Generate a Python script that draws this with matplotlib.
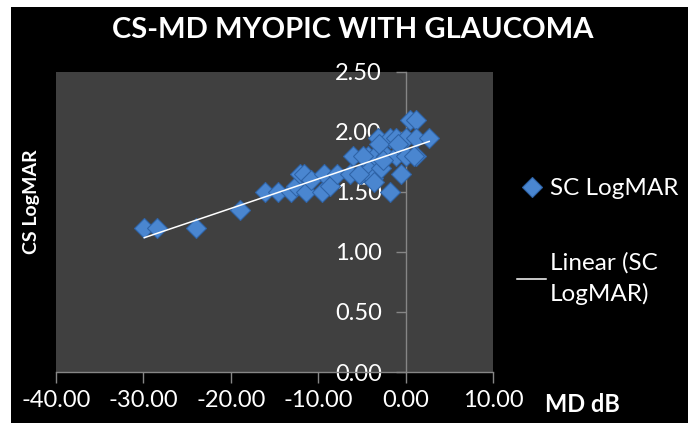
import numpy as np
import matplotlib.pyplot as plt
from matplotlib.patches import Rectangle

# MD (dB) vs contrast sensitivity (LogMAR)
md = [-29.9, -28.5, -24.0, -19.0, -16.1, -14.6, -13.1, -12.5, -12.1, -11.6,
      -11.4, -10.8, -9.6, -9.3, -8.7, -7.9, -6.4, -6.0, -5.1, -4.3,
      -4.1, -3.7, -3.5, -3.2, -2.8, -2.2, -1.8, -1.8, -1.1, -1.1,
      -0.5, 0.1, 0.1, 0.5, 1.2, 1.2, 1.2, 2.7, -3.0, -4.9,
      -2.6, -5.3, -0.9, 1.0, -3.6]
cs = [1.20, 1.20, 1.20, 1.35, 1.50, 1.50, 1.50, 1.55, 1.65, 1.65,
      1.50, 1.60, 1.50, 1.65, 1.55, 1.65, 1.65, 1.80, 1.65, 1.80,
      1.70, 1.62, 1.80, 1.95, 1.70, 1.80, 1.95, 1.50, 1.95, 1.80,
      1.65, 1.95, 1.80, 2.10, 2.10, 1.80, 1.95, 1.95, 1.90, 1.80,
      1.77, 1.65, 1.90, 1.80, 1.58]
x_ticks = [-40, -30, -20, -10, 0, 10]
y_ticks = [0.0, 0.5, 1.0, 1.5, 2.0, 2.5]

plt.rcParams['font.family'] = ['Lato', 'DejaVu Sans']

W, H = 696, 423
fig = plt.figure(figsize=(W / 100, H / 100), dpi=100)
fig.patch.set_facecolor('white')
# black chart area with thin white border
fig.patches.append(Rectangle((11 / W, 0), 677 / W, 416 / H, transform=fig.transFigure,
                             facecolor='black', edgecolor='none', zorder=-5))

ax = fig.add_axes([56 / W, 51 / H, 437 / W, 300 / H])
ax.set_zorder(2)
ax.set_facecolor('#404040')

ax.plot(md, cs, ls='none', marker='D', ms=10.5, mfc='#4a86d0', mec='#2f64a8',
        mew=0.8, label='SC LogMAR', zorder=3)

# linear trendline
k, b = np.polyfit(md, cs, 1)
xs = np.array([min(md), max(md)])
ax.plot(xs, k * xs + b, color='white', lw=1.1, label='Linear (SC\nLogMAR)', zorder=4)

ax.set_xlim(-40, 10)
ax.set_ylim(0, 2.5)
ax.set_xticks(x_ticks)
ax.set_xticklabels(['%.2f' % v for v in x_ticks])
ax.set_yticks(y_ticks)
ax.set_yticklabels(['%.2f' % v for v in y_ticks])

for s in ['top', 'right']:
    ax.spines[s].set_visible(False)
ax.spines['left'].set_position(('data', 0))
for s in ['left', 'bottom']:
    ax.spines[s].set_color('#868686')
    ax.spines[s].set_linewidth(1.0)
ax.tick_params(axis='x', colors='#868686', length=8, width=1, pad=5,
               labelsize=17, labelcolor='white')
ax.tick_params(axis='y', colors='#868686', length=7, width=1, pad=10,
               labelsize=17, labelcolor='white')
for t in ax.get_yticklabels():
    t.set_zorder(5)

fig.text(353 / W, 1 - 30 / H, 'CS-MD MYOPIC WITH GLAUCOMA', color='white',
         fontsize=21, fontweight='bold', ha='center', va='center')
fig.text(31 / W, 1 - 202 / H, 'CS LogMAR', color='white', fontsize=14,
         fontweight='bold', rotation=90, ha='center', va='center')
fig.text(545 / W, 1 - 404 / H, 'MD dB', color='white', fontsize=17,
         fontweight='bold', ha='left', va='center')

leg = ax.legend(loc='upper left', bbox_to_anchor=(517 / W, 1 - 178 / H),
                bbox_transform=fig.transFigure, frameon=False, fontsize=17.5,
                labelcolor='white', handlelength=1.2, handletextpad=0.15,
                labelspacing=2.2, borderpad=0, borderaxespad=0)
for t in leg.get_texts():
    t.set_linespacing(1.5)

fig.savefig('out.png', dpi=100, facecolor=fig.get_facecolor())
